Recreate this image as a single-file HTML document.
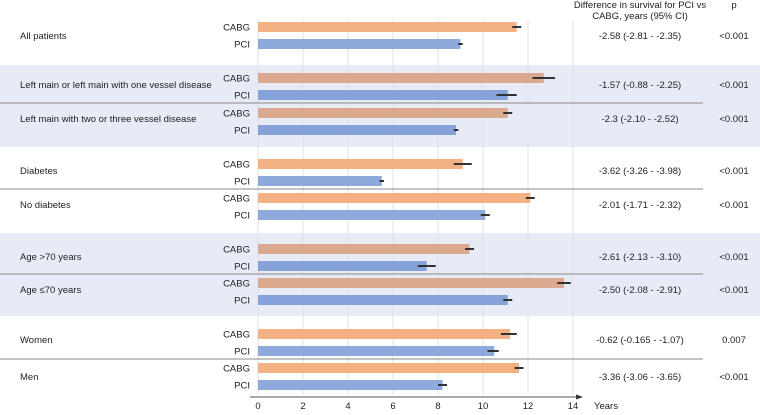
<!DOCTYPE html>
<html><head><meta charset="utf-8"><style>
body{margin:0;background:#fff;font-family:"Liberation Sans",sans-serif}
svg text{font-family:"Liberation Sans",sans-serif;font-size:9.5px;fill:#222}
</style></head><body>
<svg id="c" width="760" height="410"></svg>
<script>
const groups=["All patients","Left main or left main with one vessel disease","Left main with two or three vessel disease","Diabetes","No diabetes","Age >70 years","Age \u226470 years","Women","Men"];
const cabg=[11.5,12.7,11.1,9.1,12.1,9.4,13.6,11.2,11.6];
const cabgLo=[11.3,12.2,10.9,8.7,11.9,9.2,13.3,10.8,11.4];
const cabgHi=[11.7,13.2,11.3,9.5,12.3,9.6,13.9,11.5,11.8];
const pci=[9.0,11.1,8.8,5.5,10.1,7.5,11.1,10.5,8.2];
const pciLo=[8.9,10.6,8.7,5.4,9.9,7.1,10.9,10.2,8.0];
const pciHi=[9.1,11.5,8.9,5.6,10.3,7.9,11.3,10.7,8.4];
const diffs=["-2.58 (-2.81 - -2.35)","-1.57 (-0.88 - -2.25)","-2.3 (-2.10 - -2.52)","-3.62 (-3.26 - -3.98)","-2.01 (-1.71 - -2.32)","-2.61 (-2.13 - -3.10)","-2.50 (-2.08 - -2.91)","-0.62 (-0.165 - -1.07)","-3.36 (-3.06 - -3.65)"];
const pvals=["<0.001","<0.001","<0.001","<0.001","<0.001","<0.001","<0.001","0.007","<0.001"];
const ticks=[0,2,4,6,8,10,12,14];
const svg=document.getElementById('c');const NS='http://www.w3.org/2000/svg';
function el(t,a,txt){const e=document.createElementNS(NS,t);for(const k in a)e.setAttribute(k,a[k]);if(txt!==undefined)e.textContent=txt;svg.appendChild(e);return e;}
const x=v=>258+v*22.5;
const cY=[27,78,113,164,198,249,283,334,368];
const labY=[39,88,122,174,208,260,293,343,380];
const shaded=[false,true,true,false,false,true,true,false,false];
let e;
e=el('rect',{x:0,y:65,width:760,height:82,fill:'#e6ebf6'});

e=el('rect',{x:0,y:233,width:760,height:83,fill:'#e6ebf6'});

ticks.forEach(t=>{e=el('line',{x1:x(t),x2:x(t),y1:20,y2:395,stroke:'#e0e2e6','stroke-width':1});
});
[103,189,274,359].forEach(y=>{e=el('line',{x1:0,x2:703,y1:y,y2:y,stroke:'#8a8a8a','stroke-width':1});
});
groups.forEach((g,i)=>{
 const y=cY[i];
 e=el('rect',{x:x(0),y:y-5,width:x(cabg[i])-x(0),height:10,fill:shaded[i]?'#dba98d':'#f4b183'});
 
 e=el('rect',{x:x(0),y:y+12,width:x(pci[i])-x(0),height:10,fill:shaded[i]?'#86a2da':'#8eaadc'});
 
 e=el('line',{x1:x(cabgLo[i]),x2:x(cabgHi[i]),y1:y,y2:y,stroke:'#333','stroke-width':2});
 
 e=el('line',{x1:x(pciLo[i]),x2:x(pciHi[i]),y1:y+17,y2:y+17,stroke:'#333','stroke-width':2});
 
 e=el('text',{x:250,y:y+3.5,'text-anchor':'end'},'CABG');
 
 e=el('text',{x:250,y:y+20.5,'text-anchor':'end'},'PCI');
 
 e=el('text',{x:20,y:labY[i]},g);
 
 e=el('text',{x:640,y:labY[i],'text-anchor':'middle'},diffs[i]);
 
 e=el('text',{x:734,y:labY[i],'text-anchor':'middle'},pvals[i]);
 
});
e=el('line',{x1:250,x2:578,y1:397,y2:397,stroke:'#555','stroke-width':1});

e=el('path',{d:'M583 397 L576 394.5 L576 399.5 Z',fill:'#333'});

ticks.forEach(t=>{e=el('text',{x:x(t),y:409,'text-anchor':'middle'},String(t));
});
e=el('text',{x:594,y:409},'Years');

e=el('text',{x:640,y:8,'text-anchor':'middle'},'Difference in survival for PCI vs');

e=el('text',{x:640,y:19,'text-anchor':'middle'},'CABG, years (95% CI)');

e=el('text',{x:734,y:8,'text-anchor':'middle'},'p');

</script>
</body></html>
